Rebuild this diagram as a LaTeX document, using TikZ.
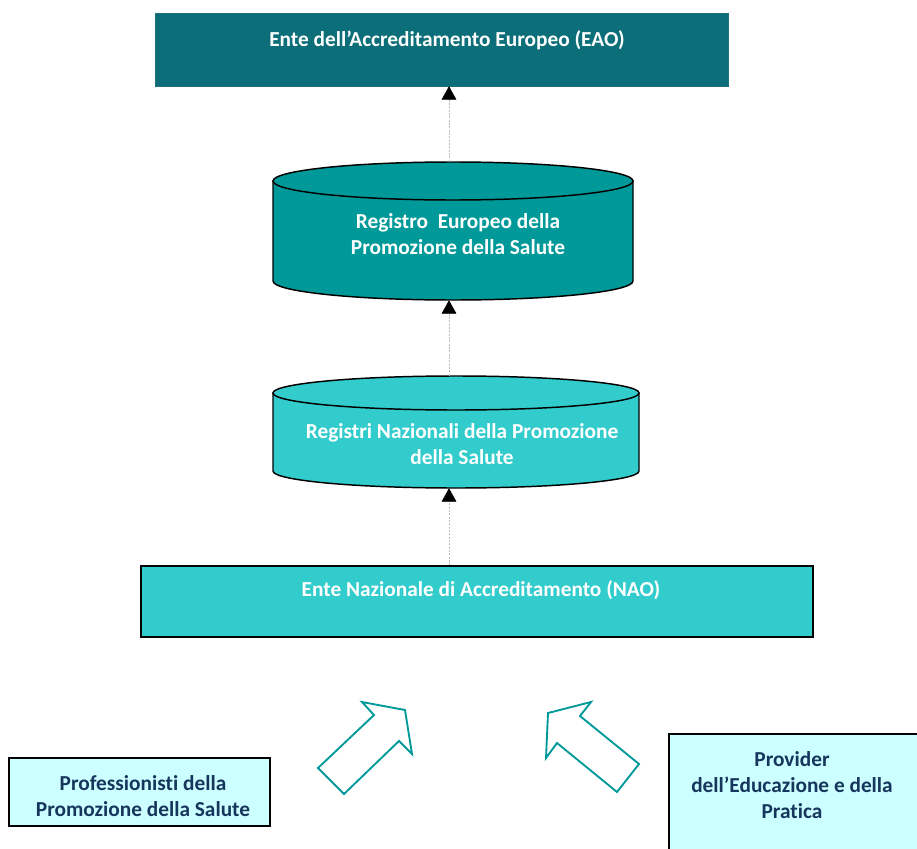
\documentclass[tikz,border=0pt]{standalone}
\usepackage{fontspec}
\setmainfont{Carlito}[Ligatures=NoCommon]
\usetikzlibrary{arrows.meta,positioning}

\definecolor{eaoteal}{RGB}{11,110,120}
\definecolor{regteal}{RGB}{0,153,153}
\definecolor{naoteal}{RGB}{51,204,204}
\definecolor{paleblue}{RGB}{204,255,255}
\definecolor{navytxt}{RGB}{23,54,93}

\begin{document}
\begin{tikzpicture}[x=.75pt,y=-.75pt,
	boxtext/.style={font=\fontsize{16}{19.5}\selectfont\bfseries, align=center, inner sep=0pt},
	whitetext/.style={boxtext, text=white},
	bluetext/.style={boxtext, text=navytxt},
	edge/.style={draw=black, line width=1.1pt},
	link/.style={draw=gray!55, dash pattern=on 1.5pt off 1pt, line width=.5pt,
		-{Triangle[length=10pt,width=11pt,color=black]}},
	blockarrow/.style={draw=regteal, line width=1.4pt, fill=white}]
	\useasboundingbox (0,0) rectangle (917,849);
	\clip (0,0) rectangle (917,849);
	\coordinate (axis) at (449,0);
	
	% European level
	\node[fill=eaoteal, draw=eaoteal!85!gray, minimum width=429.75pt, minimum height=54.75pt] (eao) at (441.5,49.5) {};
	\node[whitetext] (eaotxt) at (447,40) {Ente dell’Accreditamento Europeo (EAO)};
	
	% register cylinders
	\filldraw[edge, fill=regteal] (273,181) -- (273,281) arc[start angle=180,end angle=0,x radius=180,y radius=19] -- (633,181) -- cycle;
	\filldraw[edge, fill=regteal] (453,181) ellipse [x radius=180, y radius=19];
	\node[minimum width=270pt, minimum height=103.5pt] (reur) at (453,231) {};
	\node[whitetext] (reurtxt) at (458,234) {Registro~~Europeo della\\Promozione della Salute};
	
	\filldraw[edge, fill=naoteal] (273,393) -- (273,471) arc[start angle=180,end angle=0,x radius=183,y radius=17] -- (639,393) -- cycle;
	\filldraw[edge, fill=naoteal] (456,393) ellipse [x radius=183, y radius=17];
	\node[minimum width=274.5pt, minimum height=84pt] (rnaz) at (456,432) {};
	\node[whitetext] (rnaztxt) at (462,444) {Registri Nazionali della Promozione\\della Salute};
	
	% national level
	\node[fill=naoteal, edge, minimum width=504pt, minimum height=53.25pt] (nao) at (477,601.5) {};
	\node[whitetext] (naotxt) at (481,590) {Ente Nazionale di Accreditamento (NAO)};
	
	\draw[link] (nao.north -| axis) -- (rnaz.south -| axis);
	\draw[link] (rnaz.north -| axis) -- (reur.south -| axis);
	\draw[link] (reur.north -| axis) -- (eao.south -| axis);
	
	% inputs
	\draw[blockarrow] (318,768) -- (374,715) -- (362,702) -- (405,710) -- (412,754) -- (399,741) -- (344,794) -- cycle;
	\draw[blockarrow] (639,764) -- (580,716) -- (591,702) -- (548,713) -- (546,758) -- (557,743) -- (617,792) -- cycle;
	
	\node[fill=paleblue, edge, minimum width=195.75pt, minimum height=51pt] (prof) at (139.5,792) {};
	\node[bluetext] (proftxt) at (143,796) {Professionisti della\\Promozione della Salute};
	\node[fill=paleblue, edge, minimum width=199.5pt, minimum height=102pt] (prov) at (802,802) {};
	\node[bluetext] (provtxt) at (792,785) {Provider\\dell’Educazione e della\\Pratica};
\end{tikzpicture}
\end{document}
